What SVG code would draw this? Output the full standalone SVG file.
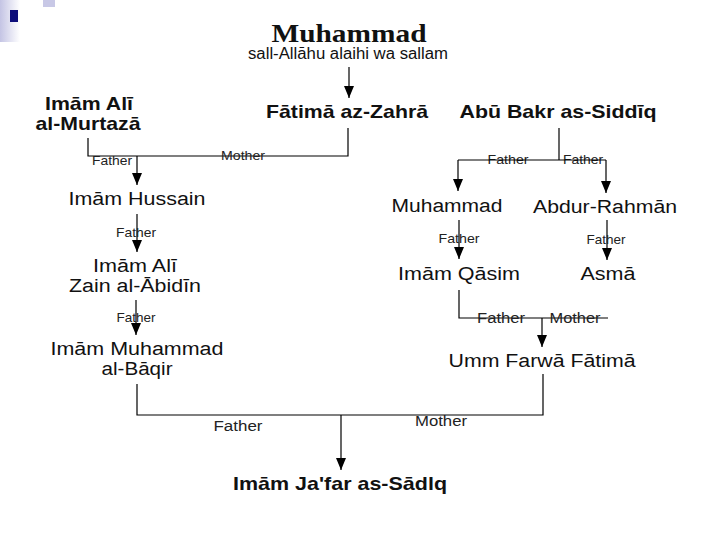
<svg xmlns="http://www.w3.org/2000/svg" width="720" height="540" viewBox="0 0 720 540">
  <defs>
    <linearGradient id="bar" x1="0" y1="0" x2="1" y2="0">
      <stop offset="0" stop-color="#c4c4e4"/>
      <stop offset="1" stop-color="#ffffff"/>
    </linearGradient>
    <marker id="ah" markerUnits="userSpaceOnUse" markerWidth="12" markerHeight="11" refX="12" refY="5.5" orient="auto">
      <path d="M0,0.5 L12,5.5 L0,10.5 z" fill="#000"/>
    </marker>
    <style>
      text { font-family: "Liberation Sans", Arial, sans-serif; fill: #111; text-anchor: middle; }
      .title { font-family: "Liberation Serif", "Times New Roman", serif; font-weight: bold; font-size: 25px; }
      .sub { font-size: 16px; }
      .b { font-weight: bold; font-size: 19px; }
      .n { font-size: 18px; }
      .l { font-size: 13px; fill: #222; }
      .l2 { font-size: 14px; fill: #222; }
      .c { stroke: #000; stroke-width: 1.2; fill: none; }
      .a { stroke: #000; stroke-width: 1.2; fill: none; marker-end: url(#ah); }
    </style>
  </defs>
  <rect width="720" height="540" fill="#fff"/>
  <!-- decoration -->
  <rect x="0" y="0" width="20" height="42" fill="url(#bar)"/>
  <rect x="43" y="0" width="12" height="7" fill="#c8c8e6"/>
  <rect x="10" y="10" width="8" height="12" fill="#0c0c7a"/>

  <g id="connectors">
    <line class="a" x1="349" y1="67" x2="349" y2="98"/>
    <polyline class="c" points="88,138 88,156 348,156 348,128"/>
    <line class="a" x1="137" y1="156" x2="137" y2="185"/>
    <line class="c" x1="559" y1="128" x2="559" y2="160"/>
    <line class="a" x1="458" y1="160" x2="458" y2="191"/>
    <line class="a" x1="606" y1="160" x2="606" y2="193"/>
    <line class="a" x1="137" y1="214" x2="137" y2="252"/>
    <line class="a" x1="136" y1="300" x2="136" y2="335"/>
    <line class="a" x1="459" y1="220" x2="459" y2="259"/>
    <line class="a" x1="607" y1="220" x2="607" y2="260"/>
    <polyline class="c" points="459,290 459,318 608,318"/>
    <line class="a" x1="542" y1="318" x2="542" y2="347"/>
    <polyline class="c" points="137,384 137,415 543,415 543,374"/>
    <line class="a" x1="341" y1="415" x2="341" y2="470"/>
    <!-- labels -->
    <text class="l" x="112" y="165" textLength="40" lengthAdjust="spacingAndGlyphs">Father</text>
    <text class="l" x="243" y="160" textLength="44" lengthAdjust="spacingAndGlyphs">Mother</text>
    <text class="l" x="508" y="164" textLength="41" lengthAdjust="spacingAndGlyphs">Father</text>
    <text class="l" x="583" y="164" textLength="40" lengthAdjust="spacingAndGlyphs">Father</text>
    <text class="l" x="136" y="237" textLength="40" lengthAdjust="spacingAndGlyphs">Father</text>
    <text class="l" x="136" y="322" textLength="39" lengthAdjust="spacingAndGlyphs">Father</text>
    <text class="l" x="459" y="243" textLength="41" lengthAdjust="spacingAndGlyphs">Father</text>
    <text class="l" x="606" y="244" textLength="39" lengthAdjust="spacingAndGlyphs">Father</text>
    <text class="l2" x="501" y="323" textLength="48" lengthAdjust="spacingAndGlyphs">Father</text>
    <text class="l2" x="575" y="323" textLength="51" lengthAdjust="spacingAndGlyphs">Mother</text>
    <text class="l2" x="238" y="431" textLength="49" lengthAdjust="spacingAndGlyphs">Father</text>
    <text class="l2" x="441" y="426" textLength="52" lengthAdjust="spacingAndGlyphs">Mother</text>
    <line class="c" x1="458" y1="160" x2="606" y2="160"/>
  </g>

  <g id="n-muhammad">
    <text class="title" x="349" y="42" textLength="155" lengthAdjust="spacingAndGlyphs">Muhammad</text>
    <text class="sub" x="348" y="59" textLength="200" lengthAdjust="spacingAndGlyphs">sall-Allāhu alaihi wa sallam</text>
  </g>
  <g id="n-ali">
    <text class="b" x="89" y="110" textLength="88" lengthAdjust="spacingAndGlyphs">Imām Alī</text>
    <text class="b" x="88" y="130" textLength="105" lengthAdjust="spacingAndGlyphs">al-Murtazā</text>
  </g>
  <g id="n-fatima">
    <text class="b" x="347" y="118" textLength="162" lengthAdjust="spacingAndGlyphs">Fātimā az-Zahrā</text>
  </g>
  <g id="n-abubakr">
    <text class="b" x="558" y="118" textLength="197" lengthAdjust="spacingAndGlyphs">Abū Bakr as-Siddīq</text>
  </g>
  <g id="n-hussain">
    <text class="n" x="137" y="205" textLength="137" lengthAdjust="spacingAndGlyphs">Imām Hussain</text>
  </g>
  <g id="n-zain">
    <text class="n" x="135" y="272" textLength="84" lengthAdjust="spacingAndGlyphs">Imām Alī</text>
    <text class="n" x="135" y="292" textLength="132" lengthAdjust="spacingAndGlyphs">Zain al-Ābidīn</text>
  </g>
  <g id="n-baqir">
    <text class="n" x="137" y="355" textLength="173" lengthAdjust="spacingAndGlyphs">Imām Muhammad</text>
    <text class="n" x="137" y="375" textLength="71" lengthAdjust="spacingAndGlyphs">al-Bāqir</text>
  </g>
  <g id="n-muhammad2">
    <text class="n" x="447" y="212" textLength="111" lengthAdjust="spacingAndGlyphs">Muhammad</text>
  </g>
  <g id="n-abdur">
    <text class="n" x="605" y="213" textLength="144" lengthAdjust="spacingAndGlyphs">Abdur-Rahmān</text>
  </g>
  <g id="n-qasim">
    <text class="n" x="459" y="280" textLength="122" lengthAdjust="spacingAndGlyphs">Imām Qāsim</text>
  </g>
  <g id="n-asma">
    <text class="n" x="608" y="280" textLength="55" lengthAdjust="spacingAndGlyphs">Asmā</text>
  </g>
  <g id="n-ummfarwa">
    <text class="n" x="542" y="367" textLength="187" lengthAdjust="spacingAndGlyphs">Umm Farwā Fātimā</text>
  </g>
  <g id="n-jafar">
    <text class="b" x="340" y="490" textLength="214" lengthAdjust="spacingAndGlyphs">Imām Ja'far as-Sādlq</text>
  </g>
</svg>
